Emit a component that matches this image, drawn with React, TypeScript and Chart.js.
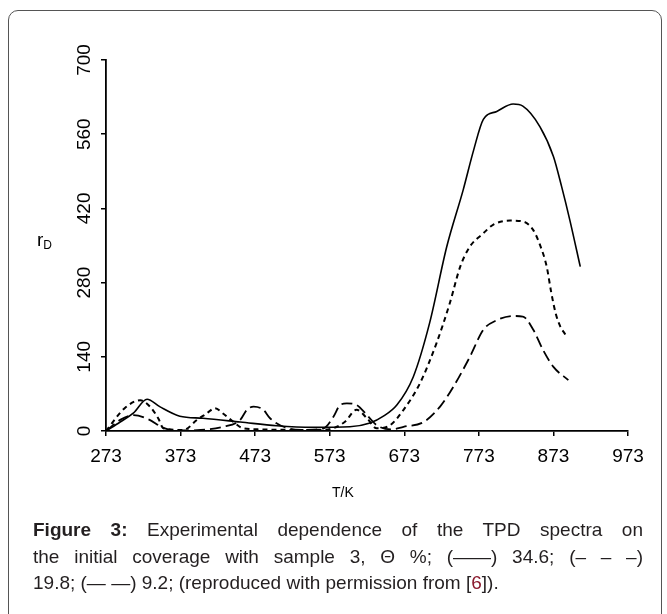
import React, { useEffect, useRef } from "react";
import { Chart, registerables } from "chart.js";

Chart.register(...registerables);

// Tick values
const xTickValues = [273, 373, 473, 573, 673, 773, 873, 973];
const yTickValues = [0, 140, 280, 420, 560, 700];

// Θ = 34.6 % (solid)
const solidT = [273, 292, 310, 328, 345, 372, 403, 453, 502, 550, 600, 627, 645, 663, 685, 707, 730, 752, 766, 779, 797, 819, 832, 855, 873, 884, 895, 909];
const solidR = [0, 17, 34, 60, 46, 28, 24, 17, 10, 7, 8, 15, 28, 49, 102, 204, 348, 455, 530, 588, 603, 617, 613, 574, 518, 461, 398, 310];

// Θ = 19.8 % (short dash)
const dashT = [273, 298, 319, 332, 343, 350, 377, 395, 408, 419, 430, 444, 457, 480, 530, 570, 593, 609, 623, 636, 654, 672, 694, 716, 734, 748, 761, 779, 792, 815, 833, 846, 855, 864, 870, 876, 882, 889];
const dashR = [0, 43, 58, 46, 24, 5, 2, 21, 33, 43, 33, 17, 5, 3, 2, 3, 17, 40, 24, 5, 11, 40, 90, 165, 241, 310, 348, 373, 389, 397, 395, 379, 351, 310, 262, 222, 198, 182];

// Θ = 9.2 % (long dash)
const longT = [273, 292, 310, 330, 350, 370, 400, 430, 453, 462, 471, 484, 493, 515, 540, 565, 578, 587, 596, 609, 623, 636, 655, 672, 699, 721, 739, 761, 779, 797, 819, 832, 846, 859, 873, 893];
const longR = [0, 21, 30, 22, 6, 1, 2, 8, 21, 40, 46, 40, 24, 6, 2, 5, 27, 49, 52, 49, 30, 11, 3, 8, 17, 46, 84, 140, 191, 209, 217, 216, 191, 153, 121, 96];

const toPoints = (t: number[], r: number[]) => t.map((x, i) => ({ x, y: r[i] }));

const FONT = "'Liberation Sans', Arial, Helvetica, sans-serif";
const CANVAS_W = 667;
const CANVAS_H = 520;

export default function App() {
  const canvasRef = useRef<HTMLCanvasElement | null>(null);

  useEffect(() => {
    if (!canvasRef.current) return;
    const common = {
      borderColor: "#000",
      pointRadius: 0,
      pointHoverRadius: 0,
      fill: false,
      tension: 0.4,
      cubicInterpolationMode: "monotone" as const,
    };
    const chart = new Chart(canvasRef.current, {
      type: "line",
      data: {
        datasets: [
          { ...common, label: "34.6", data: toPoints(solidT, solidR), borderWidth: 1.6 },
          { ...common, label: "19.8", data: toPoints(dashT, dashR), borderWidth: 2, borderDash: [5, 4] },
          { ...common, label: "9.2", data: toPoints(longT, longR), borderWidth: 1.8, borderDash: [11, 5] },
        ],
      },
      options: {
        responsive: false,
        animation: false,
        devicePixelRatio: 1,
        layout: { padding: { left: 0, top: 60, right: 39, bottom: 0 } },
        plugins: { legend: { display: false }, tooltip: { enabled: false }, title: { display: false } },
        scales: {
          x: {
            type: "linear",
            min: 273,
            max: 973,
            afterBuildTicks: (s: any) => {
              s.ticks = xTickValues.map((v) => ({ value: v }));
            },
            afterFit: (s: any) => {
              s.height = CANVAS_H - 431;
            },
            grid: { display: true, drawOnChartArea: false, drawTicks: true, tickLength: 5, color: "#000", lineWidth: 1.5 },
            border: { display: true, color: "#000", width: 1.8 },
            ticks: {
              color: "#000",
              font: { family: FONT, size: 19 },
              padding: 9,
              maxRotation: 0,
              minRotation: 0,
              autoSkip: false,
            },
          },
          y: {
            type: "linear",
            min: 0,
            max: 700,
            afterBuildTicks: (s: any) => {
              s.ticks = yTickValues.map((v) => ({ value: v }));
            },
            afterFit: (s: any) => {
              s.width = 106;
            },
            grid: { display: true, drawOnChartArea: false, drawTicks: true, tickLength: 5, color: "#000", lineWidth: 1.5 },
            border: { display: true, color: "#000", width: 1.8 },
            ticks: {
              color: "#000",
              font: { family: FONT, size: 19 },
              padding: 0,
              minRotation: 90,
              maxRotation: 90,
              crossAlign: "center",
              autoSkip: false,
            },
          },
        },
      },
    });
    return () => chart.destroy();
  }, []);

  const lineStyle: React.CSSProperties = {
    width: 610,
    height: 26.5,
    whiteSpace: "nowrap",
  };
  const justified: React.CSSProperties = {
    ...lineStyle,
    whiteSpace: "normal",
    textAlign: "justify",
    textAlignLast: "justify",
  };

  return (
    <div style={{ position: "relative", width: 667, height: 614, overflow: "hidden", background: "#fff" }}>
      <style>{`html,body{margin:0;padding:0;overflow:hidden;background:#fff;}`}</style>
      <div
        style={{
          position: "absolute",
          left: 8,
          top: 10,
          width: 654,
          height: 640,
          border: "1px solid #555",
          borderRadius: 10,
          boxSizing: "border-box",
        }}
      />
      <canvas
        ref={canvasRef}
        width={CANVAS_W}
        height={CANVAS_H}
        style={{ position: "absolute", left: 0, top: 0, width: CANVAS_W, height: CANVAS_H }}
      />
      <div
        style={{
          position: "absolute",
          left: 37,
          top: 229,
          fontFamily: FONT,
          fontSize: 19,
          color: "#000",
          lineHeight: "22px",
          whiteSpace: "nowrap",
        }}
      >
        r<sub style={{ fontSize: 12, verticalAlign: "-3px" }}>D</sub>
      </div>
      <div
        style={{
          position: "absolute",
          left: 332,
          top: 484,
          fontFamily: FONT,
          fontSize: 14,
          color: "#000",
          whiteSpace: "nowrap",
        }}
      >
        T/K
      </div>
      <div
        style={{
          position: "absolute",
          left: 33,
          top: 517,
          fontFamily: FONT,
          fontSize: 19,
          lineHeight: "26.5px",
          color: "#231f20",
        }}
      >
        <div style={justified}>
          <b>Figure 3:</b> Experimental dependence of the TPD spectra on
        </div>
        <div style={justified}>the initial coverage with sample 3, Θ %; (——) 34.6; (– – –)</div>
        <div style={lineStyle}>
          19.8; (— —) 9.2; (reproduced with permission from [<span style={{ color: "#8b1a2e" }}>6</span>]).
        </div>
      </div>
    </div>
  );
}
